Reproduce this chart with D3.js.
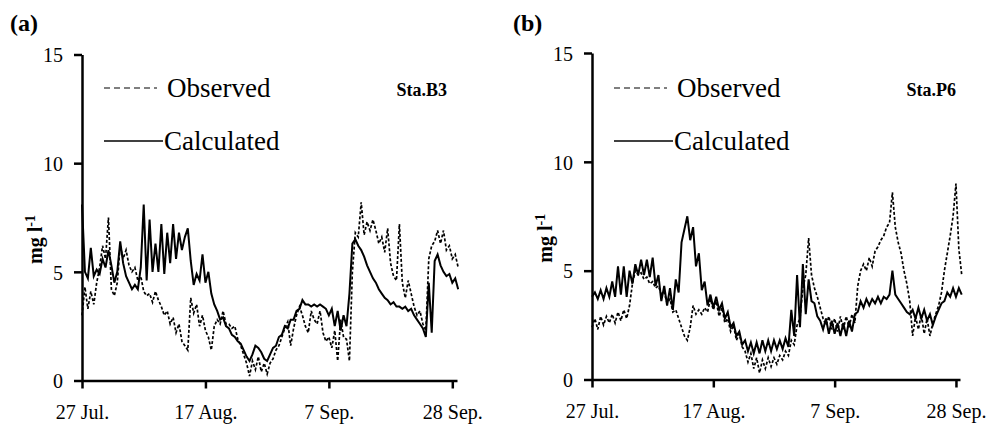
<!DOCTYPE html>
<html>
<head>
<meta charset="utf-8">
<script src="https://cdn.jsdelivr.net/npm/d3@7"></script>
<style>
  body { margin: 0; background: #fff; }
  svg { display: block; font-family: "Liberation Serif", "Times New Roman", serif; }
  .axis path, .axis line { stroke: #000; stroke-width: 2.5; }
  .axis text { font-family: "Liberation Serif", "Times New Roman", serif; font-size: 20px; fill: #000; }
</style>
</head>
<body>
<div id="chart"></div>
<script>
// x tick positions (days after 27 Jul.) and their labels
const tickDays = [0, 21, 42, 63];
const tickLabels = ['27 Jul.', '17 Aug.', '7 Sep.', '28 Sep.'];
const yTicks = [0, 5, 10, 15];
const stepDays = 0.5;

// Sta.B3 (a), one value every half day
const aObserved = [
  3.0,4.3,3.3,4.1,3.5,4.5,5.2,6.2,5.6,7.5,
  4.2,3.9,4.5,6.2,5.6,6.0,5.3,5.0,5.2,4.6,
  4.8,4.1,3.9,4.0,3.6,4.1,3.7,3.4,3.0,3.2,
  2.6,2.9,2.2,2.6,1.8,1.6,1.4,3.8,3.1,3.5,
  2.5,3.0,2.3,2.0,1.4,2.5,2.8,2.6,3.2,2.6,
  2.6,2.4,2.5,1.9,1.6,1.2,0.8,0.2,0.9,0.5,
  1.1,0.4,0.8,0.3,0.8,1.0,1.4,1.6,2.0,2.4,
  2.7,1.6,2.4,3.0,3.4,3.0,2.5,2.2,3.2,2.8,
  2.6,3.2,2.2,1.8,2.0,1.5,2.3,0.9,2.8,2.0,
  1.9,0.9,5.0,6.8,6.6,8.2,6.7,7.3,6.9,7.4,
  6.9,6.3,6.6,5.9,7.0,5.4,4.8,4.6,7.2,4.5,
  3.8,4.6,4.0,3.4,3.0,3.2,2.6,2.3,5.6,6.2,
  6.4,6.9,6.3,6.9,6.0,6.2,5.6,5.8,5.2
];
const aCalculated = [
  8.1,5.0,4.7,6.1,4.8,5.1,4.9,5.6,5.2,6.0,
  5.3,4.5,5.0,6.4,5.4,4.8,4.5,4.2,4.4,4.2,
  5.2,8.1,4.6,7.4,5.0,6.3,5.0,7.2,4.9,6.8,
  5.4,7.2,5.6,6.8,6.0,6.6,7.0,5.5,4.4,4.9,
  4.6,5.8,4.5,5.0,4.0,3.5,3.2,2.8,2.9,2.5,
  2.4,2.1,2.0,1.8,1.7,1.4,1.1,0.9,1.2,1.6,
  1.5,1.3,1.0,0.9,1.2,1.5,1.6,2.0,2.1,2.5,
  2.4,2.8,2.8,3.2,3.3,3.7,3.5,3.5,3.4,3.5,
  3.4,3.5,3.4,3.3,3.0,3.3,2.5,3.2,2.3,3.0,
  2.5,4.0,6.3,6.5,6.2,6.0,5.7,5.3,5.0,4.7,
  4.5,4.2,4.0,3.8,3.7,3.5,3.6,3.4,3.4,3.3,
  3.4,3.2,3.3,3.0,2.8,2.6,2.4,2.0,4.5,2.2,
  5.5,5.8,5.3,5.0,4.8,4.9,4.5,4.7,4.2
];

// Sta.P6 (b)
const bObserved = [
  2.4,2.8,2.3,2.9,2.5,2.9,2.6,3.0,2.6,3.1,
  2.7,3.2,2.8,3.4,4.4,5.0,4.8,4.9,4.6,4.7,
  4.4,4.5,4.2,4.3,3.9,4.0,3.5,3.7,3.1,3.2,
  2.8,2.4,2.0,1.8,2.4,3.4,3.0,3.2,3.0,3.3,
  3.1,3.7,3.2,3.6,2.9,3.3,2.6,2.8,2.2,2.5,
  1.8,2.1,1.5,1.3,0.8,1.2,0.5,1.0,0.3,0.9,
  0.5,1.0,0.6,1.0,0.7,1.1,0.9,1.3,1.1,1.8,
  1.6,2.5,2.8,4.2,4.8,6.5,4.8,4.2,3.8,3.3,
  2.8,2.5,2.9,2.3,2.8,2.2,2.9,2.3,2.9,2.4,
  3.0,2.6,4.3,5.0,5.3,5.0,5.6,5.2,5.9,6.1,
  6.4,6.6,7.0,7.2,8.6,7.0,6.3,5.8,5.0,4.4,
  3.6,2.0,2.9,2.3,3.0,2.1,2.8,2.0,2.6,3.0,
  3.4,4.0,5.0,5.8,6.6,7.5,9.0,6.0,4.8
];
const bCalculated = [
  3.8,4.0,3.7,4.1,3.7,4.2,3.8,4.5,3.8,5.2,
  3.9,5.2,3.8,5.0,4.4,5.3,4.8,5.5,4.8,5.5,
  4.7,5.6,4.3,4.8,3.6,4.3,3.4,4.2,3.2,4.6,
  4.0,6.3,6.9,7.5,6.4,7.0,5.2,5.8,4.1,4.5,
  3.4,3.9,3.3,3.8,3.2,3.5,2.8,3.1,2.4,2.6,
  2.0,2.2,1.6,1.8,1.3,1.7,1.2,1.7,1.2,1.8,
  1.3,1.8,1.3,1.8,1.4,1.8,1.4,1.9,1.5,3.2,
  2.0,4.8,2.4,5.3,3.0,4.6,3.6,3.5,2.9,2.7,
  2.3,2.8,2.1,2.7,2.1,2.6,2.0,2.6,2.0,2.7,
  2.2,3.0,3.1,3.6,3.3,3.7,3.4,3.7,3.5,3.8,
  3.5,3.8,3.7,3.9,5.0,3.9,3.7,3.5,3.3,3.1,
  3.0,3.2,2.8,3.3,2.8,3.2,2.7,3.0,2.5,2.9,
  3.2,3.5,3.6,4.0,3.8,4.2,3.8,4.2,3.9
];

const panels = [
  {tag: '(a)', station: 'Sta.B3', obs: aObserved, cal: aCalculated,
   left: 82, right: 457, xMax: 63.8, bottom: 380.5, top: 54.5, tagX: 10, stationX: 447},
  {tag: '(b)', station: 'Sta.P6', obs: bObserved, cal: bCalculated,
   left: 592, right: 960, xMax: 63.7, bottom: 379.5, top: 53, tagX: 513, stationX: 956},
];

const svg = d3.select('#chart').append('svg')
  .attr('width', 995)
  .attr('height', 425);

panels.forEach(p => {
  const x = d3.scaleLinear().domain([0, p.xMax]).range([p.left, p.right]);
  const y = d3.scaleLinear().domain([0, 15]).range([p.bottom, p.top]);
  const g = svg.append('g');

  const line = d3.line()
    .x((d, i) => x(i * stepDays))
    .y(d => y(d));

  // Series
  g.append('path')
    .datum(p.obs)
    .attr('fill', 'none')
    .attr('stroke', '#000')
    .attr('stroke-width', 1.7)
    .attr('stroke-dasharray', '3,2')
    .attr('d', line);

  g.append('path')
    .datum(p.cal)
    .attr('fill', 'none')
    .attr('stroke', '#000')
    .attr('stroke-width', 2)
    .attr('d', line);

  // Bottom axis
  const xAxis = g.append('g')
    .attr('class', 'axis')
    .attr('transform', `translate(0,${p.bottom})`)
    .call(d3.axisBottom(x).tickValues(tickDays).tickSize(8).tickSizeOuter(0)
      .tickFormat((d, i) => tickLabels[i]));
  xAxis.selectAll('text').attr('y', 38).attr('dy', 0);

  // Left axis
  const yAxis = g.append('g')
    .attr('class', 'axis')
    .attr('transform', `translate(${p.left},0)`)
    .call(d3.axisLeft(y).tickValues(yTicks).tickSize(8).tickSizeOuter(0).tickPadding(11));
  yAxis.selectAll('text').attr('dy', '0.36em');

  // Vertical axis title
  const yt = g.append('text')
    .attr('transform', `translate(${p.left - 40},${(p.top + p.bottom) / 2 + 22}) rotate(-90)`)
    .attr('text-anchor', 'middle')
    .style('font-size', '20px')
    .style('font-weight', 'bold');
  yt.append('tspan').text('mg l');
  yt.append('tspan').attr('dy', -7).style('font-size', '14px').text('-1');

  // Panel tag and station
  g.append('text')
    .attr('x', p.tagX).attr('y', 31)
    .style('font-size', '24px').style('font-weight', 'bold')
    .text(p.tag);
  g.append('text')
    .attr('x', p.stationX).attr('y', 96)
    .attr('text-anchor', 'end')
    .style('font-size', '18px').style('font-weight', 'bold')
    .text(p.station);

  // Legend
  const lg = g.append('g').attr('transform', `translate(${p.left + 22},0)`);
  lg.append('line')
    .attr('x1', 0).attr('x2', 53).attr('y1', 88).attr('y2', 88)
    .attr('stroke', '#000').attr('stroke-width', 1.2).attr('stroke-dasharray', '6,4');
  lg.append('text')
    .attr('x', 63).attr('y', 97)
    .style('font-size', '27px')
    .text('Observed');
  lg.append('line')
    .attr('x1', 0).attr('x2', 59).attr('y1', 141).attr('y2', 141)
    .attr('stroke', '#000').attr('stroke-width', 1.5);
  lg.append('text')
    .attr('x', 60).attr('y', 150)
    .style('font-size', '27px')
    .text('Calculated');
});
</script>
</body>
</html>
